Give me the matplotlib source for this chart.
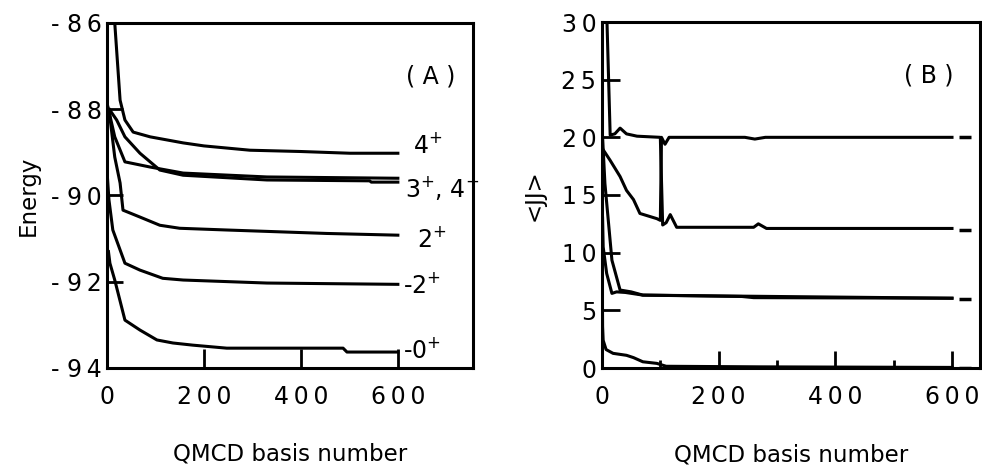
import matplotlib
matplotlib.use("Agg")
import matplotlib.pyplot as plt
from matplotlib.ticker import FixedLocator

plt.rcParams['font.family'] = ['DejaVu Sans']
plt.rcParams['mathtext.fontset'] = 'dejavusans'

TS = "\u2009"  # thin space between digits

# ---- Panel (A): energy convergence vs. QMCD basis number ----
basis_4p_a = [12, 16, 27, 37, 54, 89, 157, 200, 295, 400, 501, 600]
energy_4p_a = [-85.5, -86.0, -87.79, -88.25, -88.53, -88.64, -88.78, -88.85, -88.95, -88.98, -89.02, -89.02]

basis_3p = [2, 16, 37, 89, 157, 330, 600]
energy_3p = [-87.95, -88.64, -89.22, -89.34, -89.48, -89.57, -89.60]

basis_4p_b = [6, 20, 37, 68, 109, 157, 330, 542, 545, 600]
energy_4p_b = [-88.02, -88.25, -88.64, -89.02, -89.41, -89.53, -89.64, -89.66, -89.69, -89.69]

basis_2p_a = [4, 16, 27, 33, 68, 109, 150, 247, 453, 600]
energy_2p_a = [-88.0, -89.11, -89.71, -90.34, -90.50, -90.69, -90.76, -90.80, -90.88, -90.92]

basis_2p_b = [1, 4, 12, 37, 68, 115, 157, 330, 600]
energy_2p_b = [-89.6, -90.1, -90.8, -91.57, -91.73, -91.92, -91.96, -92.03, -92.06]

basis_0p = [3, 6, 16, 37, 68, 103, 136, 177, 247, 487, 495, 600]
energy_0p = [-91.3, -91.57, -91.96, -92.89, -93.12, -93.35, -93.42, -93.47, -93.54, -93.54, -93.63, -93.63]

energy_ticks = [-86, -88, -90, -92, -94]
energy_ticklabels = ["- " + TS.join(str(abs(v))) for v in energy_ticks]
basis_ticks_a = [0, 200, 400, 600]
basis_ticklabels = [TS.join(str(v)) for v in basis_ticks_a]

# state labels: (x, y, text)
state_labels = [
    (631, -89.02, r"4$^{+}$"),
    (614, -90.04, r"3$^{+}$, 4$^{+}$"),
    (639, -91.20, r"2$^{+}$"),
    (610, -92.26, r"-2$^{+}$"),
    (610, -93.77, r"-0$^{+}$"),
]

# ---- Panel (B): <JJ> vs. QMCD basis number ----
jj_basis_a = [1, 14, 31, 42, 54, 65, 94, 100, 102, 108, 115, 245, 262, 280, 600]
jj_a = [19.0, 18.0, 16.6, 15.4, 14.6, 13.4, 12.95, 12.8, 20.0, 19.4, 20.0, 20.0, 19.85, 20.0, 20.0]

jj_basis_b = [8, 14, 22, 31, 42, 60, 100, 104, 110, 117, 122, 128, 260, 268, 282, 600]
jj_b = [31.0, 20.2, 20.3, 20.8, 20.3, 20.1, 20.0, 12.4, 12.6, 13.3, 12.8, 12.2, 12.2, 12.5, 12.1, 12.1]

jj_basis_c = [1, 5, 17, 31, 50, 70, 240, 260, 600]
jj_c = [20.0, 16.0, 9.35, 6.76, 6.6, 6.32, 6.2, 6.1, 6.05]

jj_basis_d = [1, 2, 8, 17, 25, 40, 70, 200, 600]
jj_d = [13.0, 10.5, 8.2, 6.47, 6.6, 6.55, 6.32, 6.25, 6.05]

jj_basis_e = [0.5, 1, 2, 7, 19, 42, 54, 70, 94, 110, 271, 600]
jj_e = [8.0, 3.6, 2.4, 1.6, 1.27, 1.1, 0.9, 0.54, 0.4, 0.15, 0.1, 0.05]

# exact J(J+1) values marked at the right
jj_exact = [20, 12, 6, 0]

jj_ticks = [0, 5, 10, 15, 20, 25, 30]
jj_ticklabels = [TS.join(str(v)) for v in jj_ticks]
basis_ticks_b_major = [0, 200, 400, 600]
basis_ticks_b_minor = [100, 300, 500]

LW = 2.2
FS = 16
TFS = 17

fig = plt.figure(figsize=(9.82, 4.65), dpi=100)
axA = fig.add_axes([107 / 982, 1 - 368 / 465, 366 / 982, 345 / 465])
axB = fig.add_axes([602 / 982, 1 - 368 / 465, 378 / 982, 346 / 465])

for xs, ys in [(basis_4p_a, energy_4p_a), (basis_3p, energy_3p), (basis_4p_b, energy_4p_b),
               (basis_2p_a, energy_2p_a), (basis_2p_b, energy_2p_b), (basis_0p, energy_0p)]:
    axA.plot(xs, ys, color="black", lw=LW, solid_joinstyle="round")

axA.set_xlim(0, 755)
axA.set_ylim(-94, -86)
axA.yaxis.set_major_locator(FixedLocator(energy_ticks))
axA.set_yticklabels(energy_ticklabels)
axA.xaxis.set_major_locator(FixedLocator(basis_ticks_a))
axA.set_xticklabels(basis_ticklabels)
axA.tick_params(axis="y", direction="in", length=11.5, width=2, labelsize=TFS, pad=3.5)
axA.tick_params(axis="x", direction="in", length=14, width=2, labelsize=TFS, pad=12)
axA.text(0.885, 0.845, "( A )", transform=axA.transAxes,
         ha="center", va="center", fontsize=FS + 1)
for x, y, s in state_labels:
    axA.text(x, y, s, ha="left", va="baseline", fontsize=FS + 1, clip_on=False)
axA.set_xlabel("QMCD basis number", fontsize=FS + 0.5)
axA.xaxis.set_label_coords(0.5, -0.217)
axA.set_ylabel("Energy", fontsize=FS + 0.5)
axA.yaxis.set_label_coords(-0.183, 0.5)

for xs, ys in [(jj_basis_a, jj_a), (jj_basis_b, jj_b), (jj_basis_c, jj_c),
               (jj_basis_d, jj_d), (jj_basis_e, jj_e)]:
    axB.plot(xs, ys, color="black", lw=LW, solid_joinstyle="round")
axB.hlines(jj_exact, 612, 632, colors="black", lw=2.5)

axB.set_xlim(0, 648)
axB.set_ylim(0, 30)
axB.yaxis.set_major_locator(FixedLocator(jj_ticks))
axB.set_yticklabels(jj_ticklabels)
axB.xaxis.set_major_locator(FixedLocator(basis_ticks_b_major))
axB.xaxis.set_minor_locator(FixedLocator(basis_ticks_b_minor))
axB.set_xticklabels(basis_ticklabels)
axB.tick_params(axis="y", direction="in", length=13, width=2, labelsize=TFS, pad=4)
axB.tick_params(axis="x", which="major", direction="in", length=12, width=2, labelsize=TFS, pad=12)
axB.tick_params(axis="x", which="minor", direction="in", length=6, width=2)
axB.text(0.865, 0.845, "( B )", transform=axB.transAxes,
         ha="center", va="center", fontsize=FS + 1)
axB.set_xlabel("QMCD basis number", fontsize=FS + 0.5)
axB.xaxis.set_label_coords(0.5, -0.217)
axB.set_ylabel("<JJ>", fontsize=FS + 0.5)
axB.yaxis.set_label_coords(-0.15, 0.5)

for ax in (axA, axB):
    for sp in ax.spines.values():
        sp.set_linewidth(2.2)

fig.savefig("out.png", dpi=100)
